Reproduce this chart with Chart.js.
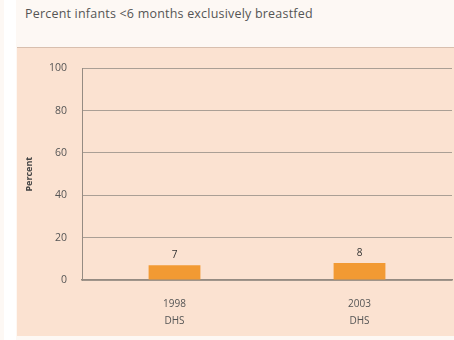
<!DOCTYPE html>
<html>
<head>
<meta charset="utf-8">
<script src="https://cdn.jsdelivr.net/npm/chart.js@4"></script>
<style>
  html, body { margin: 0; padding: 0; background: #fdf8f4; }
  body { width: 454px; height: 340px; position: relative; overflow: hidden; font-family: "Open Sans", "Liberation Sans", sans-serif; }
  #strip { position: absolute; left: 4px; top: 0; width: 12px; height: 340px; background: #ffffff; }
  #title { position: absolute; left: 25px; top: 5px; font-size: 12.5px; color: #555; letter-spacing: 0.2px; }
  #panel { position: absolute; left: 17px; top: 47px; width: 437px; height: 288px; background: #fbe2d1; border-top: 1px solid #d8bfae; }
  #wrap { position: absolute; left: 17px; top: 47px; width: 437px; height: 288px; }
</style>
</head>
<body>
<div id="strip"></div>
<div id="title">Percent infants &lt;6 months exclusively breastfed</div>
<div id="panel"></div>
<div id="wrap"><canvas id="chart"></canvas></div>
<script>
// survey labels and values
const surveys = [['1998', 'DHS'], ['2003', 'DHS']];
const percentExclusive = [7, 8];
const yTicks = [0, 20, 40, 60, 80, 100];

const barColor = '#f29a33';
const fontFamily = '"Open Sans", "Liberation Sans", sans-serif';

// values above the bars
const valueLabels = {
    id: 'valueLabels',
    afterDatasetsDraw(chart) {
        const ctx = chart.ctx;
        const meta = chart.getDatasetMeta(0);
        ctx.save();
        ctx.font = '10px ' + fontFamily;
        ctx.fillStyle = '#333';
        ctx.textAlign = 'center';
        ctx.textBaseline = 'bottom';
        meta.data.forEach((bar, i) => {
            ctx.fillText(percentExclusive[i], bar.x, bar.y - 5);
        });
        ctx.restore();
    }
};

const chart = new Chart(document.getElementById('chart').getContext('2d'), {
    type: 'bar',
    data: {
        labels: surveys,
        datasets: [{
            data: percentExclusive,
            backgroundColor: barColor,
            categoryPercentage: 1,
            barPercentage: 0.28
        }]
    },
    options: {
        responsive: true,
        maintainAspectRatio: false,
        animation: false,
        layout: { padding: { top: 13, right: 2, left: 0, bottom: 0 } },
        plugins: {
            legend: { display: false },
            tooltip: { enabled: false }
        },
        scales: {
            x: {
                grid: { display: false },
                border: { color: '#958b82', width: 1.5 },
                ticks: {
                    color: '#555',
                    font: { size: 10, family: fontFamily, lineHeight: 1.7 },
                    padding: 8
                },
                afterFit(scale) { scale.height = 55; }
            },
            y: {
                min: 0,
                max: 100,
                afterBuildTicks(scale) { scale.ticks = yTicks.map(v => ({ value: v })); },
                grid: { color: '#aa9f95', drawTicks: false },
                border: { color: '#958b82' },
                ticks: {
                    color: '#555',
                    font: { size: 10.5, family: fontFamily },
                    padding: 15
                },
                title: {
                    display: true,
                    text: 'Percent',
                    color: '#444',
                    font: { size: 9, weight: 'bold', family: fontFamily },
                    padding: { top: 7, bottom: 0 }
                },
                afterFit(scale) { scale.width = 65; }
            }
        }
    },
    plugins: [valueLabels]
});
</script>
</body>
</html>
